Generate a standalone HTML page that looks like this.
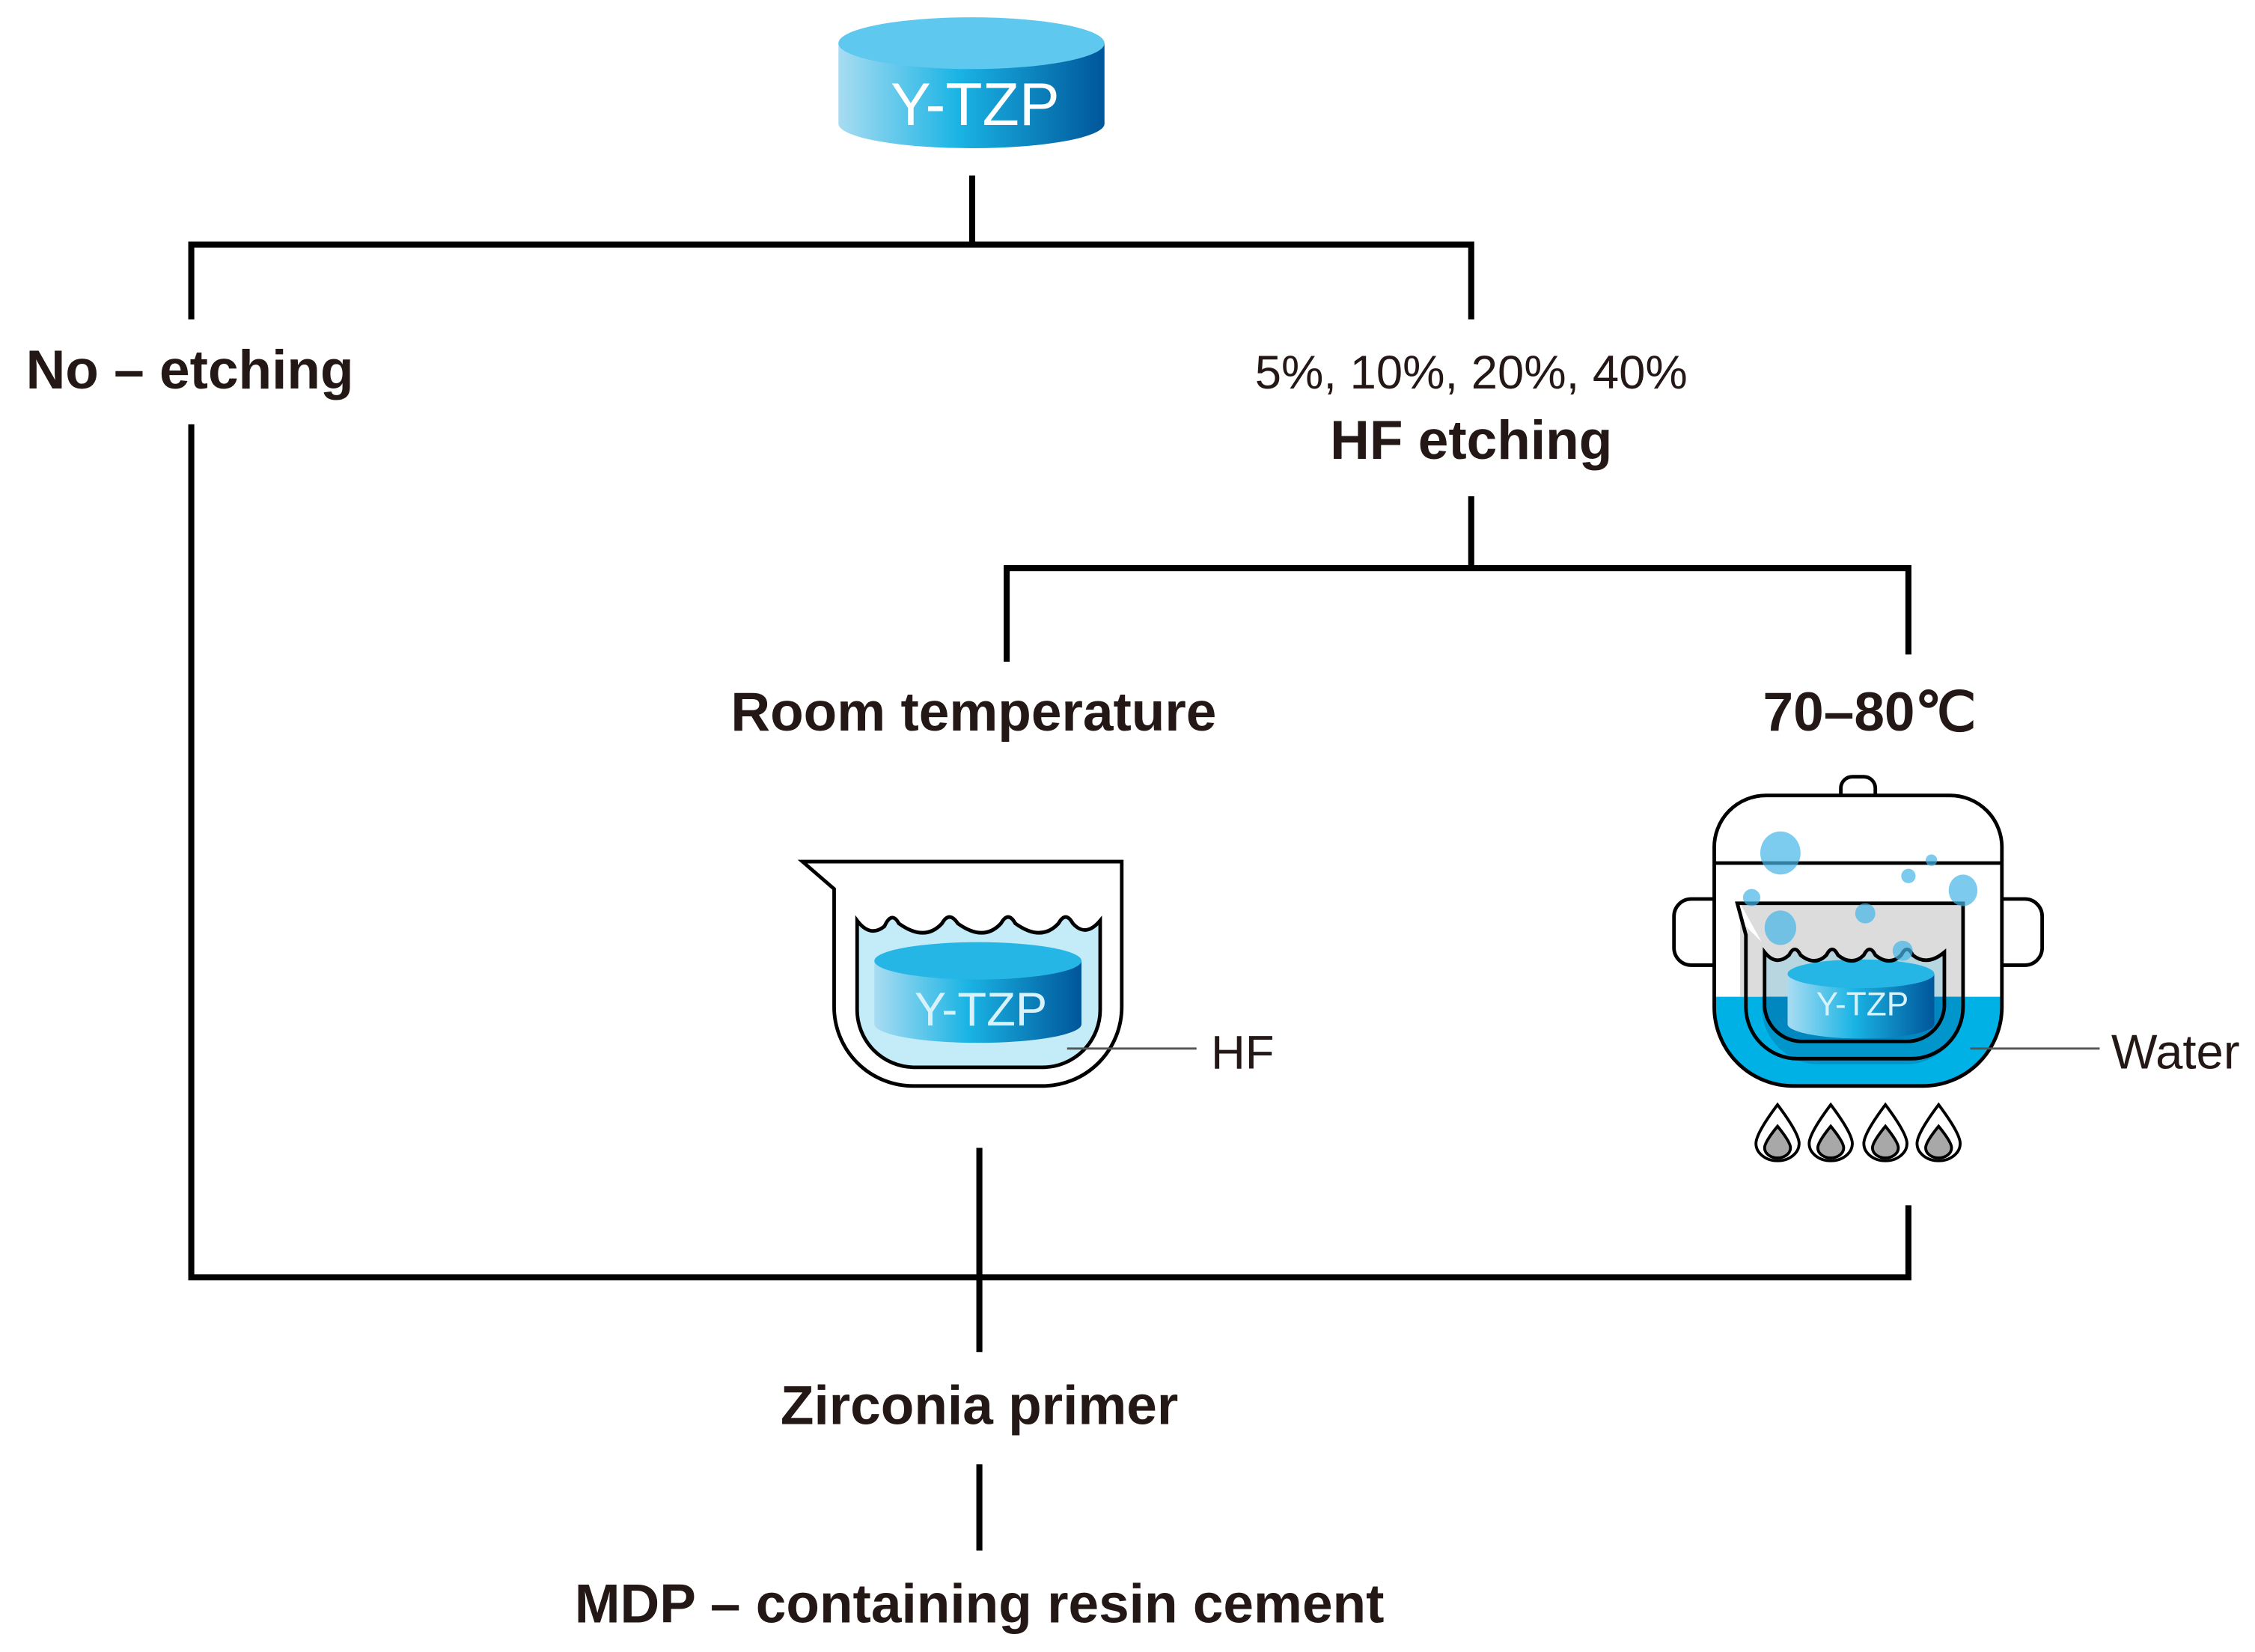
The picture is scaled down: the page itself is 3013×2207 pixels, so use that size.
<!DOCTYPE html>
<html><head><meta charset="utf-8"><style>
html,body{margin:0;padding:0;background:#fff;width:3013px;height:2207px;overflow:hidden}
svg{display:block}
text{font-family:"Liberation Sans",sans-serif;fill:#231815}
</style></head><body>
<svg width="3013" height="2207" viewBox="0 0 1568 1148.5" xmlns="http://www.w3.org/2000/svg">
<defs>
<linearGradient id="cyl" x1="0" x2="1" y1="0" y2="0">
<stop offset="0" stop-color="#a8dcf2"/><stop offset="0.45" stop-color="#1ab4e4"/><stop offset="1" stop-color="#00569a"/>
</linearGradient>
</defs>
<g stroke="#000" stroke-width="4.2" fill="none">
<path d="M676 122V170M133 222V170H1023V222"/>
<path d="M1023 345V395M700 460V395H1327V455"/>
<path d="M133 295V888H1327V838M681 798V940M681 1018V1078"/>
</g>
<!-- top cylinder -->
<path d="M583 30V86A92.5 17 0 0 0 768 86V30Z" fill="url(#cyl)"/>
<ellipse cx="675.5" cy="30" rx="92.5" ry="18" fill="#5ec8ef"/>
<text x="678" y="87" font-size="42" style="fill:#fff" text-anchor="middle">Y-TZP</text>

<text x="18" y="270" font-size="38" font-weight="bold">No – etching</text>
<text x="1023" y="270" font-size="33" text-anchor="middle">5%, 10%, 20%, 40%</text>
<text x="1023" y="319" font-size="38" font-weight="bold" text-anchor="middle">HF etching</text>
<text x="677" y="508" font-size="38" font-weight="bold" text-anchor="middle">Room temperature</text>
<text x="1300" y="508" font-size="38" font-weight="bold" text-anchor="middle">70–80℃</text>
<text x="681" y="990" font-size="38" font-weight="bold" text-anchor="middle">Zirconia primer</text>
<text x="681" y="1128" font-size="38" font-weight="bold" text-anchor="middle">MDP – containing resin cement</text>

<!-- beaker -->
<path d="M596 640Q605 652 615 644Q620 633 625 642Q643 655 655 642Q660 633 666 642Q684 655 696 642Q701 633 706 642Q724 655 736 642Q741 633 746 642Q755 652 765 640V702A40 40 0 0 1 725 742H635A40 40 0 0 1 596 702Z" fill="#c4ebf8" stroke="#000" stroke-width="2.5"/>
<path d="M608 668V712A72 13 0 0 0 752 712V668Z" fill="url(#cyl)"/>
<ellipse cx="680" cy="668" rx="72" ry="13" fill="#25b6e6"/>
<text x="682" y="713" font-size="33" text-anchor="middle" style="fill:#d8f2fb">Y-TZP</text>
<path d="M558 599H780V700A55 55 0 0 1 725 755H635A55 55 0 0 1 580 700V618Z" fill="none" stroke="#000" stroke-width="2.5"/>
<path d="M742 729H832" stroke="#555" stroke-width="1.5"/>
<text x="842" y="743" font-size="33">HF</text>

<!-- pot -->
<rect x="1280" y="540" width="24" height="22" rx="8" fill="#fff" stroke="#000" stroke-width="2.5"/>
<rect x="1164" y="625" width="40" height="46" rx="12" fill="#fff" stroke="#000" stroke-width="2.5"/>
<rect x="1380" y="625" width="40" height="46" rx="12" fill="#fff" stroke="#000" stroke-width="2.5"/>
<path d="M1192 700V590A36 36 0 0 1 1228 553H1356A36 36 0 0 1 1392 590V700A55 55 0 0 1 1337 755H1247A55 55 0 0 1 1192 700Z" fill="#fff"/>
<path d="M1192 693H1392V700A55 55 0 0 1 1337 755H1247A55 55 0 0 1 1192 700Z" fill="#00b1e6"/>
<path d="M1192 700V590A36 36 0 0 1 1228 553H1356A36 36 0 0 1 1392 590V700A55 55 0 0 1 1337 755H1247A55 55 0 0 1 1192 700Z" fill="none" stroke="#000" stroke-width="2.5"/>
<path d="M1192 600H1392" stroke="#000" stroke-width="2.5"/>
<!-- inner beaker -->
<path d="M1210 628H1365V693H1210V640L1225 655Z" fill="#dcdcdc"/>
<path d="M1225 693H1365V700A40 40 0 0 1 1325 740H1265A40 40 0 0 1 1225 700Z" fill="#0096cc"/>
<path d="M1227 662Q1235 672 1244 664Q1248 656 1252 664Q1262 672 1270 664Q1274 656 1278 664Q1288 672 1296 664Q1300 656 1304 664Q1314 672 1322 664Q1326 656 1330 664Q1340 672 1352 662V693H1227Z" fill="#b7d6e0"/>
<path d="M1227 693H1352V700A26 26 0 0 1 1326 724H1253A26 26 0 0 1 1227 700Z" fill="#0087c0"/>
<path d="M1243 677V712A51 10 0 0 0 1345 712V677Z" fill="url(#cyl)"/>
<ellipse cx="1294" cy="677" rx="51" ry="10" fill="#25b6e6"/>
<text x="1295" y="706" font-size="23" text-anchor="middle" style="fill:#d8f2fb">Y-TZP</text>
<path d="M1227 662Q1235 672 1244 664Q1248 656 1252 664Q1262 672 1270 664Q1274 656 1278 664Q1288 672 1296 664Q1300 656 1304 664Q1314 672 1322 664Q1326 656 1330 664Q1340 672 1352 662V700A26 26 0 0 1 1326 724H1253A26 26 0 0 1 1227 700Z" fill="none" stroke="#000" stroke-width="2.5"/>
<path d="M1208 628H1365V700A36 36 0 0 1 1329 736H1250A36 36 0 0 1 1214 700V650Z" fill="none" stroke="#000" stroke-width="2.5"/>
<g fill="#45b6e8" opacity="0.7">
<ellipse cx="1238" cy="593" rx="14" ry="15"/><circle cx="1343" cy="598" r="4"/><circle cx="1327" cy="609" r="5"/>
<ellipse cx="1365" cy="619" rx="10" ry="11"/><circle cx="1218" cy="624" r="6"/><circle cx="1297" cy="635" r="7"/>
<ellipse cx="1238" cy="645" rx="11" ry="12"/><circle cx="1323" cy="661" r="7"/>
</g>
<path d="M1370 729H1460" stroke="#555" stroke-width="1.5"/>
<text x="1468" y="743" font-size="34">Water</text>
<!-- flames -->
<g stroke="#000" stroke-width="2">
<g fill="#fff">
<path d="M1236 768Q1221 788 1221 795A15 12 0 0 0 1251 795Q1251 788 1236 768Z"/>
<path d="M1273 768Q1258 788 1258 795A15 12 0 0 0 1288 795Q1288 788 1273 768Z"/>
<path d="M1311 768Q1296 788 1296 795A15 12 0 0 0 1326 795Q1326 788 1311 768Z"/>
<path d="M1348 768Q1333 788 1333 795A15 12 0 0 0 1363 795Q1363 788 1348 768Z"/>
</g>
<g fill="#a8a8a8">
<path d="M1236 783Q1227 794 1227 798A9 7 0 0 0 1245 798Q1245 794 1236 783Z"/>
<path d="M1273 783Q1264 794 1264 798A9 7 0 0 0 1282 798Q1282 794 1273 783Z"/>
<path d="M1311 783Q1302 794 1302 798A9 7 0 0 0 1320 798Q1320 794 1311 783Z"/>
<path d="M1348 783Q1339 794 1339 798A9 7 0 0 0 1357 798Q1357 794 1348 783Z"/>
</g>
</g>
</svg>
</body></html>
